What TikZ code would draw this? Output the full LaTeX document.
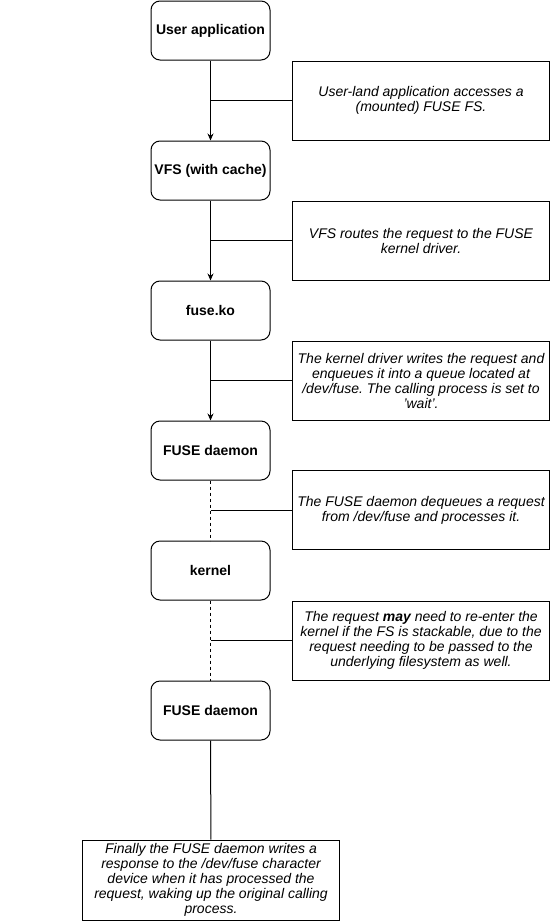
\documentclass[tikz,border=0pt]{standalone}
\usepackage{fontspec}
\setmainfont{Liberation Sans}
\usetikzlibrary{arrows.meta}
\frenchspacing

\begin{document}
\begin{tikzpicture}[x=1pt, y=-1pt, line width=1pt, >={Stealth[length=7pt, width=6pt]},
  layer/.style={draw, rounded corners=9pt, minimum width=119pt, minimum height=59pt,
    inner sep=0pt, font=\fontsize{14}{15}\selectfont\bfseries},
  note/.style={draw, minimum width=257pt, minimum height=79pt, inner sep=0pt,
    align=center, font=\fontsize{14}{15}\selectfont\itshape}]
  \useasboundingbox (0,0) rectangle (551,921);
  % ---------------------------------------------------------------- the layers, top to bottom
  \node[layer] (app)     at (210.5,30.5)  {User application};
  \node[layer] (vfs)     at (210.5,170.5) {VFS (with cache)};
  \node[layer] (fuseko)  at (210.5,310.5) {fuse.ko};
  \node[layer] (daemon)  at (210.5,450.5) {FUSE daemon};
  \node[layer] (kernel)  at (210.5,570.5) {kernel};
  \node[layer] (daemonb) at (210.5,710.5) {FUSE daemon};
  % the request going down
  \draw[->] (app) -- (vfs);
  \draw[->] (vfs) -- (fuseko);
  \draw[->] (fuseko) -- (daemon);
  % the optional trip through the kernel
  \draw[dash pattern=on 3pt off 3pt] (daemon) -- (kernel);
  \draw[dash pattern=on 3pt off 3pt] (kernel) -- (daemonb);
  % ---------------------------------------------------------------- notes beside each step
  \node[note] (napp) at (421,100.5) {User-land application accesses a\\(mounted) FUSE FS.};
  \node[note] (nvfs) at (421,240.5) {VFS routes the request to the FUSE\\kernel driver.};
  \node[note] (nko)  at (421,380.5) {The kernel driver writes the request and\\enqueues it into a queue located at\\/dev/fuse. The calling process is set to\\\symbol{39}wait\symbol{39}.};
  \node[note] (ndq)  at (421,510)   {The FUSE daemon dequeues a request\\from /dev/fuse and processes it.};
  \node[note] (nre)  at (421,640.5) {The request \textbf{may} need to re-enter the\\kernel if the FS is stackable, due to the\\request needing to be passed to the\\underlying filesystem as well.};
  \draw (napp.west) -- (napp.west -| app.south);
  \draw (nvfs.west) -- (nvfs.west -| vfs.south);
  \draw (nko.west)  -- (nko.west -| fuseko.south);
  \draw (ndq.west)  -- (ndq.west -| daemon.south);
  \draw (nre.west)  -- (nre.west -| kernel.south);
  % the reply back to the caller
  \node[note, minimum height=80pt] (nend) at (211,880) {Finally the FUSE daemon writes a\\response to the /dev/fuse character\\device when it has processed the\\request, waking up the original calling\\process.};
  \draw (daemonb) -- (nend);
\end{tikzpicture}
\end{document}
